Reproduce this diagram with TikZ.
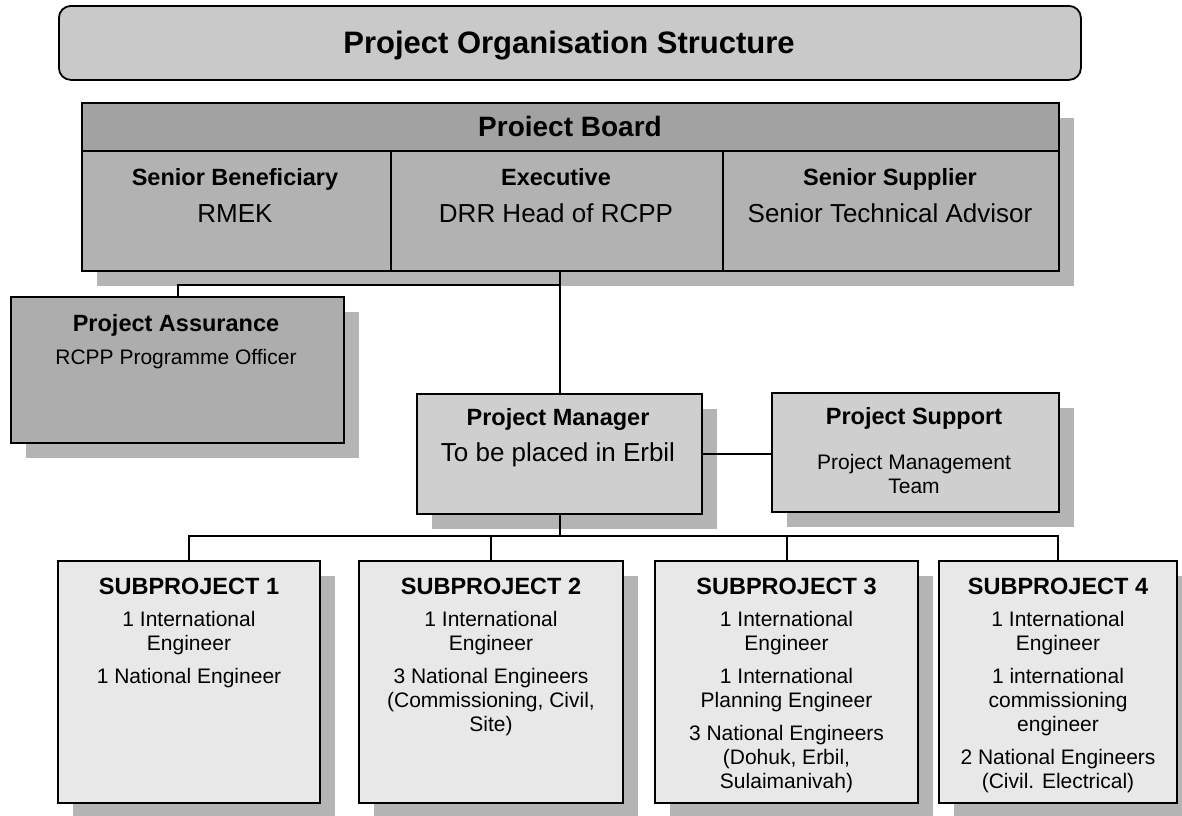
\documentclass[tikz,border=0pt]{standalone}
\usepackage{fontspec}
\setmainfont{Liberation Sans}
\usetikzlibrary{shadows,calc}
\definecolor{titlefill}{HTML}{C9C9C9}
\definecolor{boardhead}{HTML}{A2A2A2}
\definecolor{boardfill}{HTML}{B2B2B2}
\definecolor{assfill}{HTML}{ADADAD}
\definecolor{pmfill}{HTML}{CFCFCF}
\definecolor{subfill}{HTML}{E8E8E8}
\definecolor{shadowc}{HTML}{B4B4B4}
\newcommand\myfs[2]{\fontsize{#1}{#2}\selectfont}
\begin{document}
\begin{tikzpicture}[x=1pt,y=-1pt,
  boxst/.style={draw=black, line width=2pt, inner sep=0pt, anchor=north west},
  shad/.style={drop shadow={shadow xshift=15pt, shadow yshift=-15pt, fill=shadowc, opacity=1}},
  conn/.style={draw=black, line width=2pt},
  hd/.style={font=\myfs{23.5}{26}\bfseries, inner sep=0pt, anchor=base},
  tx/.style={font=\myfs{21}{24}, inner sep=0pt, align=center},
  big/.style={font=\myfs{26}{30}, inner sep=0pt, anchor=base},
  subbox/.style={boxst, shad, fill=subfill, minimum height=242pt}]
\useasboundingbox (0,0) rectangle (1182,815);
\fill[white] (0,0) rectangle (1182,815);

% title
\node[draw=black, line width=1.8pt, rounded corners=12pt, fill=titlefill,
      minimum width=1022pt, minimum height=74pt, anchor=north west, inner sep=0pt] (title) at (58,5) {};
\node[font=\myfs{31}{36}\bfseries, inner sep=0pt, anchor=base] (ttitle) at (569,53) {Project Organisation Structure};

% project board
\node[boxst, shad, fill=boardfill, minimum width=977pt, minimum height=168pt] (board) at (81,102) {};
\node[boxst, fill=boardhead, minimum width=977pt, minimum height=48pt] (bhead) at (81,102) {};
\node[boxst, minimum width=309pt, minimum height=120pt] (sb) at (81,150) {};
\node[boxst, minimum width=332pt, minimum height=120pt] (ex) at (390,150) {};
\node[boxst, minimum width=336pt, minimum height=120pt] (ss) at (722,150) {};
\node[font=\myfs{28}{32}\bfseries, inner sep=0pt, anchor=base] (tboard) at (570,136) {Proiect Board};
\node[hd] (tsb) at (235,185.5) {Senior Beneficiary};
\node[big] (tsb2) at (235,222) {RMEK};
\node[hd] (tex) at (556,185.5) {Executive};
\node[big] (tex2) at (556,222) {DRR Head of RCPP};
\node[hd] (tss) at (890,185.5) {Senior Supplier};
\node[big] (tss2) at (890,222) {Senior Technical Advisor};

% assurance
\node[boxst, shad, fill=assfill, minimum width=333pt, minimum height=146pt] (assur) at (10,296) {};
\node[hd] (tassur) at (176,331.5) {Project Assurance};
\node[tx, anchor=base] (tassur2) at (176,364.5) {RCPP Programme Officer};

% project manager and support
\node[boxst, shad, fill=pmfill, minimum width=285pt, minimum height=120pt] (pm) at (416,393) {};
\node[hd] (tpm) at (558,425.5) {Project Manager};
\node[big] (tpm2) at (558,461) {To be placed in Erbil};
\node[boxst, shad, fill=pmfill, minimum width=287pt, minimum height=119pt] (sup) at (771,392) {};
\node[hd] (tsup) at (914,424.5) {Project Support};
\node[tx] (tsup2) at (914,474) {Project Management\\Team};

% subprojects
\node[subbox, minimum width=262pt] (s1) at (57,560) {};
\node[subbox, minimum width=264pt] (s2) at (358,560) {};
\node[subbox, minimum width=263pt] (s3) at (654,560) {};
\node[subbox, minimum width=238pt] (s4) at (938,560) {};

\node[hd] (ts1) at (s1.north |- 0,594.5) {SUBPROJECT 1};
\node[tx, anchor=north] (ts1b) at (s1.north |- 0,611) {1 International\\Engineer\\[9pt]1 National Engineer};
\node[hd] (ts2) at (s2.north |- 0,594.5) {SUBPROJECT 2};
\node[tx, anchor=north] (ts2b) at (s2.north |- 0,611) {1 International\\Engineer\\[9pt]3 National Engineers\\(Commissioning, Civil,\\Site)};
\node[hd] (ts3) at (s3.north |- 0,594.5) {SUBPROJECT 3};
\node[tx, anchor=north] (ts3b) at (s3.north |- 0,611) {1 International\\Engineer\\[9pt]1 International\\Planning Engineer\\[9pt]3 National Engineers\\(Dohuk, Erbil,\\Sulaimanivah)};
\node[hd] (ts4) at (s4.north |- 0,594.5) {SUBPROJECT 4};
\node[tx, anchor=north] (ts4b) at (s4.north |- 0,611) {1 International\\Engineer\\[9pt]1 international\\commissioning\\engineer\\[9pt]2 National Engineers\\(Civil. Electrical)};

% connectors
\coordinate (j1) at (pm.north |- 0,285);
\coordinate (j2) at (pm.south |- 0,536);
\draw[conn] (pm.north |- board.south) -- (pm.north);
\draw[conn] (assur.north) -- (assur.north |- j1) -- (j1);
\draw[conn] (pm.east) -- (sup.west |- pm.east);
\draw[conn] (pm.south) -- (j2);
\draw[conn] (s1.north) -- (s1.north |- j2) -- (s4.north |- j2) -- (s4.north);
\draw[conn] (s2.north) -- (s2.north |- j2);
\draw[conn] (s3.north) -- (s3.north |- j2);
\end{tikzpicture}
\end{document}
